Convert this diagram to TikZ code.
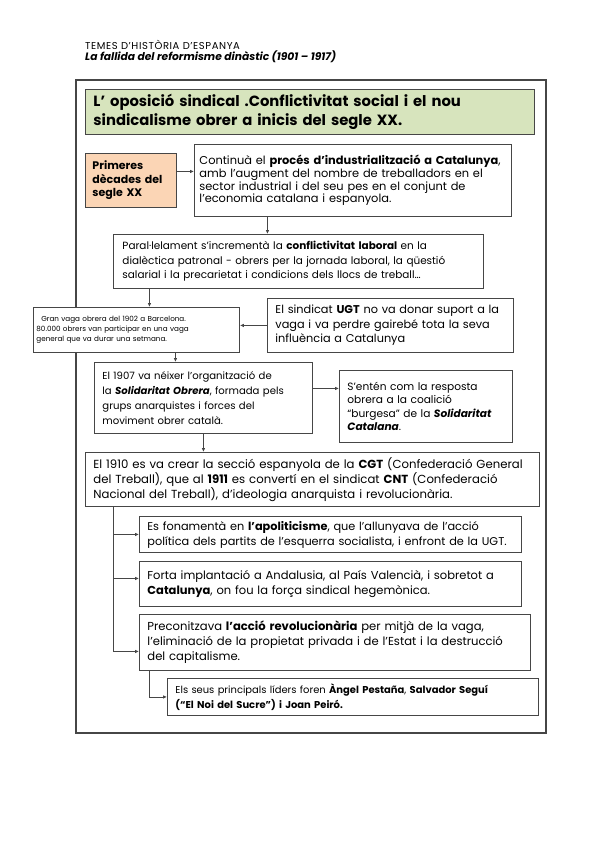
\documentclass[tikz,border=0pt]{standalone}
\usepackage{fontspec}
\setmainfont{Poppins}
\usepackage{tikz}
\usetikzlibrary{arrows.meta}
\definecolor{titlegreen}{RGB}{215,228,189}
\definecolor{boxorange}{RGB}{251,213,181}
\definecolor{boxline}{RGB}{70,70,70}
\tikzset{
  txtbox/.style={draw=boxline, line width=0.9pt, fill=white, anchor=north west,
    inner xsep=8pt, inner ysep=0pt, align=left},
  conn/.style={draw=boxline, line width=0.8pt, -{Latex[length=4pt,width=3.6pt]}},
  plainline/.style={draw=boxline, line width=0.8pt}
}
\newcommand{\fsz}[2]{\fontsize{#1}{#2}\selectfont}

\begin{document}
\begin{tikzpicture}[x=1pt,y=-1pt]
\useasboundingbox (0,0) rectangle (599,848);
% header
\node[anchor=west, inner sep=0pt, font=\fsz{10}{11}\addfontfeature{LetterSpace=6}] (head) at (85,45) {TEMES D'HISTÒRIA D'ESPANYA};
\node[anchor=west, inner sep=0pt, font=\fsz{10.7}{11}\bfseries\itshape] (sub) at (85,57) {La fallida del reformisme dinàstic (1901 – 1917)};
% frame
\draw[draw=boxline, line width=1.3pt] (76,80) rectangle (546,733);
% boxes
\node[txtbox, fill=titlegreen, text width=433pt, minimum height=45pt, font=\fsz{14.8}{19}\bfseries] (title) at (85,89)
 {L' oposició sindical .Conflictivitat social i el nou\\ sindicalisme obrer a inicis del segle XX.};
\node[txtbox, fill=boxorange, text width=77pt, inner xsep=7pt, minimum height=54pt, font=\fsz{11}{13.5}\bfseries] (prim) at (85,153)
 {Primeres\\ dècades del\\ segle XX};
\node[txtbox, inner xsep=5pt, text width=307pt, minimum height=72pt, font=\fsz{11.4}{12.8}] (ind) at (194,144)
 {Continuà el \textbf{procés d'industrialització a Catalunya},\\ amb l'augment del nombre de treballadors en el\\ sector industrial i del seu pes en el conjunt de\\ l'economia catalana i espanyola.};
\node[txtbox, inner xsep=9pt, text width=352pt, minimum height=54pt, font=\fsz{10.45}{14.5}] (par) at (113,234)
 {Paral·lelament s'incrementà la \textbf{conflictivitat laboral} en la\\ dialèctica patronal - obrers per la jornada laboral, la qüestió\\ salarial i la precarietat i condicions dels llocs de treball\ldots};
\node[txtbox, inner xsep=3pt, text width=200pt, minimum height=45pt, font=\fsz{7.2}{10.3}] (vaga) at (33,307)
 {\ \ Gran vaga obrera del 1902 a Barcelona.\\ 80.000 obrers van participar en una vaga\\ general que va durar una setmana.};
\node[txtbox, text width=230pt, minimum height=54pt, font=\fsz{11.3}{14.5}] (ugt) at (267,298)
 {El sindicat \textbf{UGT} no va donar suport a la\\ vaga i va perdre gairebé tota la seva\\ influència a Catalunya};
\node[txtbox, text width=202pt, minimum height=71pt, font=\fsz{10.1}{14.8}] (sol) at (94,362)
 {El 1907 va néixer l'organització de\\ la \textbf{\textit{Solidaritat Obrera}}, formada pels\\ grups anarquistes i forces del\\ moviment obrer català.};
\node[txtbox, text width=157pt, minimum height=72pt, font=\fsz{10.6}{13.6}] (sent) at (339,370)
 {S'entén com la resposta\\ obrera a la coalició\\ “burgesa” de la \textbf{\textit{Solidaritat}}\\ \textbf{\textit{Catalana}}.};
\node[txtbox, inner xsep=8pt, text width=438pt, minimum height=54pt, font=\fsz{11.7}{15}] (cgt) at (85,452)
 {El 1910 es va crear la secció espanyola de la \textbf{CGT} (Confederació General\\ del Treball), que al \textbf{1911} es convertí en el sindicat \textbf{CNT} (Confederació\\ Nacional del Treball), d'ideologia anarquista i revolucionària.};
\node[txtbox, inner xsep=8pt, text width=366pt, minimum height=36pt, font=\fsz{11.3}{15}] (apol) at (139,516)
 {Es fonamentà en \textbf{l'apoliticisme}, que l'allunyava de l'acció\\ política dels partits de l'esquerra socialista, i enfront de la UGT.};
\node[txtbox, inner xsep=8pt, text width=366pt, minimum height=45pt, font=\fsz{11.5}{15}] (forta) at (139,561)
 {Forta implantació a Andalusia, al País Valencià, i sobretot a\\ \textbf{Catalunya}, on fou la força sindical hegemònica.};
\node[txtbox, inner xsep=8pt, text width=375pt, minimum height=56pt, font=\fsz{11.6}{15}] (prec) at (139,614)
 {Preconitzava \textbf{l'acció revolucionària} per mitjà de la vaga,\\ l'eliminació de la propietat privada i de l'Estat i la destrucció\\ del capitalisme.};
\node[txtbox, text width=355pt, minimum height=37pt, font=\fsz{9.95}{15}] (lid) at (167,678)
 {Els seus principals líders foren \textbf{Àngel Pestaña}, \textbf{Salvador Seguí}\\ \textbf{(“El Noi del Sucre”) i Joan Peiró.}};
% connectors
\draw[conn] ([yshift=9pt]prim.east) -- ([yshift=9pt]prim.east -| ind.west);
\draw[conn] ([xshift=-85.5pt]ind.south) -- ([xshift=-85.5pt]ind.south |- par.north);
\draw[conn] ([xshift=-149pt]par.south) -- ([xshift=-149pt]par.south |- vaga.north);
\draw[conn] (ugt.west) -- (ugt.west -| vaga.east);
\draw[conn] ([xshift=39pt]vaga.south) -- ([xshift=39pt]vaga.south |- sol.north);
\draw[conn] ([yshift=9.5pt]sol.east) -- ([yshift=9.5pt]sol.east -| sent.west);
\draw[conn] (sol.south) -- (sol.south |- cgt.north);
\coordinate (spine) at ([xshift=-199pt]cgt.south);
\coordinate (precin) at ([yshift=-9pt]prec.west);
\coordinate (fortain) at ([yshift=5.5pt]forta.west);
\draw[conn] (spine) |- (precin);
\draw[conn] (spine |- apol.west) -- (apol.west);
\draw[conn] (spine |- fortain) -- (fortain);
\draw[conn] ([xshift=-185.5pt]prec.south) |- (lid.west);
\end{tikzpicture}
\end{document}
